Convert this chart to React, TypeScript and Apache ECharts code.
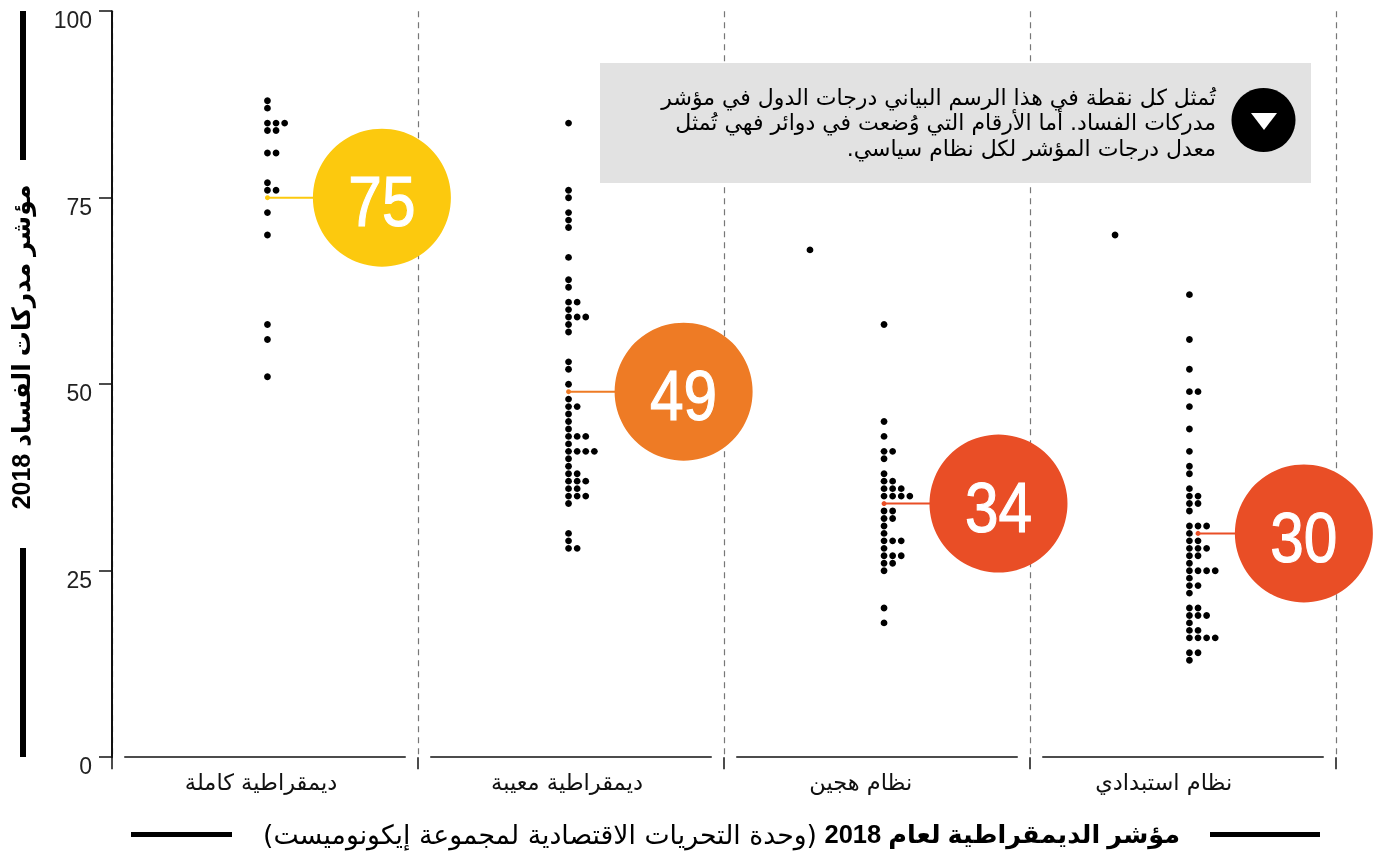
import React, { useEffect, useRef } from "react";
import * as echarts from "echarts";

const categories = ["ديمقراطية كاملة", "ديمقراطية معيبة", "نظام هجين", "نظام استبدادي"];
const fullDemocracy = [88, 87, 85, 85, 85, 84, 84, 81, 81, 77, 76, 76, 73, 70, 58, 56, 51];
const flawedDemocracy = [85, 76, 75, 73, 72, 71, 67, 64, 63, 61, 61, 60, 59, 59, 59, 58, 57, 53, 52, 50, 48, 47, 47, 46, 45, 44, 43, 43, 43, 42, 41, 41, 41, 41, 40, 39, 38, 38, 37, 37, 37, 36, 36, 35, 35, 35, 34, 30, 29, 28, 28];
const hybridRegime = [58, 45, 43, 41, 41, 40, 38, 37, 37, 36, 36, 36, 35, 35, 35, 35, 33, 33, 32, 32, 31, 30, 29, 29, 29, 28, 27, 27, 27, 26, 26, 25, 20, 18];
const authoritarian = [62, 56, 52, 49, 49, 47, 44, 41, 39, 38, 36, 35, 35, 34, 34, 33, 31, 31, 31, 30, 29, 29, 28, 28, 28, 27, 27, 26, 25, 25, 25, 25, 24, 23, 23, 22, 20, 20, 19, 19, 19, 18, 17, 17, 16, 16, 16, 16, 14, 14, 13];
const outliers = [[], [], [68], [70]];
const means = [75, 49, 34, 30];
const meanColors = ["#FCC90E", "#EE7B25", "#E94E26", "#E94E26"];
const yTicks = [0, 25, 50, 75, 100];
const groups = [fullDemocracy, flawedDemocracy, hybridRegime, authoritarian];

// layout in x-axis units (one regime = 1)
const baseX = [0.508, 1.492, 2.523, 3.521];
const colStep = 0.0281;
const outlierX = [0, 0, 2.281, 3.278];
const circleX = [0.882, 1.868, 2.897, 3.895];
const labelX = [0.487, 1.487, 2.447, 3.437];

const AR = '"DejaVu Sans"';
const NUM = '"Liberation Sans"';
const INK = "#111";

function buildSeries() {
  const series: any[] = [];
  series.push({
    type: "scatter", data: [], silent: true,
    markLine: {
      silent: true, symbol: "none", label: { show: false }, animation: false,
      lineStyle: { color: INK, width: 1.5, type: "solid" },
      data: categories.map((_, i) => [{ coord: [i + 0.04, 0] }, { coord: [i + 0.96, 0] }]),
    },
  });
  groups.forEach((vals, i) => {
    const seen: Record<number, number> = {};
    const pts = vals.map((v) => {
      const c = seen[v] || 0;
      seen[v] = c + 1;
      return [baseX[i] + c * colStep, v];
    });
    outliers[i].forEach((v) => pts.push([outlierX[i], v]));
    series.push({ type: "scatter", data: pts, symbolSize: 6.8, itemStyle: { color: "#000", opacity: 1 }, z: 3 });
    const mx = baseX[i] + (seen[means[i]] || 0) * colStep;
    series.push({
      type: "line", z: 4, symbol: "circle", symbolSize: 5, showSymbol: true,
      lineStyle: { color: meanColors[i], width: 2 }, itemStyle: { color: meanColors[i] },
      data: [[mx, means[i]], [circleX[i], means[i]]],
    });
    series.push({
      type: "scatter", z: 5, symbolSize: 138, itemStyle: { color: meanColors[i], opacity: 1 },
      data: [[circleX[i], means[i]]],
    });
    series.push({
      type: "custom", z: 6, coordinateSystem: "cartesian2d",
      data: [[circleX[i], means[i]]],
      renderItem: (_: any, api: any) => {
        const p = api.coord([api.value(0), api.value(1)]);
        return {
          type: "text", x: p[0], y: p[1] + 4, scaleX: 0.85, z2: 10,
          style: {
            text: String(api.value(1)), fill: "#fff", stroke: "#fff", lineWidth: 1.2, fontFamily: NUM, fontSize: 71,
            align: "center", verticalAlign: "middle",
          },
        };
      },
    });
  });
  return series;
}

function App() {
  const ref = useRef<HTMLDivElement>(null);
  useEffect(() => {
    const chart = echarts.init(ref.current!, undefined, { renderer: "svg" });
    const txt = (text: string, x: number, y: number, size: number, extra: any = {}, weight = "normal", family = AR, rotation = 0) => ({
      type: "text", x, y, rotation, z: 20,
      style: { text, fontSize: size, fontWeight: weight, fontFamily: family, fill: "#000", align: "right", verticalAlign: "middle", ...extra },
    });
    chart.setOption({
      animation: false,
      grid: { left: 112, top: 11.2, width: 1224, height: 746, containLabel: false },
      xAxis: {
        type: "value", min: 0, max: 4, interval: 1,
        axisLine: { show: false },
        axisTick: { show: true, length: 12, customValues: [0, 1, 2, 3, 4], lineStyle: { color: INK, width: 1.5 } },
        splitLine: { show: true, lineStyle: { color: "#777", width: 1.2, type: [6, 5] } },
        axisLabel: {
          show: true, customValues: labelX, margin: 13, color: "#111", fontFamily: AR, fontSize: 22.5,
          formatter: (v: number) => categories[Math.floor(v)],
        },
      },
      yAxis: {
        type: "value", min: 0, max: 100, interval: 25,
        axisLine: { show: true, lineStyle: { color: INK, width: 2 } },
        axisTick: { show: true, length: 13, lineStyle: { color: INK, width: 1.5 } },
        splitLine: { show: false },
        axisLabel: {
          show: true, margin: 20, color: "#222", fontFamily: NUM, fontSize: 23, verticalAlign: "top", lineHeight: 18,
          customValues: yTicks,
        },
      },
      graphic: [
        { type: "rect", z: 10, shape: { x: 600, y: 63, width: 711, height: 120 }, style: { fill: "#E2E2E2" } },
        { type: "circle", z: 11, shape: { cx: 1263.5, cy: 120, r: 32 }, style: { fill: "#000" } },
        { type: "polygon", z: 12, shape: { points: [[1251, 113], [1277, 113], [1264, 130]] }, style: { fill: "#fff" } },
        txt("تُمثل كل نقطة في هذا الرسم البياني درجات الدول في مؤشر", 1216, 97, 22),
        txt("مدركات الفساد. أما الأرقام التي وُضعت في دوائر فهي تُمثل", 1216, 122, 22),
        txt("معدل درجات المؤشر لكل نظام سياسي.\u200F", 1216, 148, 22),
        { type: "rect", z: 10, shape: { x: 20, y: 11, width: 6, height: 149 }, style: { fill: "#000" } },
        { type: "rect", z: 10, shape: { x: 20, y: 548, width: 6, height: 209 }, style: { fill: "#000" } },
        txt("مؤشر مدركات الفساد 2018", 21, 347, 25, { align: "center" }, "bold", `${NUM}, ${AR}`, Math.PI / 2),
        { type: "rect", z: 10, shape: { x: 131, y: 832, width: 101, height: 5 }, style: { fill: "#000" } },
        { type: "rect", z: 10, shape: { x: 1210, y: 832, width: 110, height: 5 }, style: { fill: "#000" } },
        txt("مؤشر الديمقراطية لعام 2018", 1180, 834, 25.5, {}, "bold", `${NUM}, ${AR}`),
        txt("\u200F(وحدة التحريات الاقتصادية لمجموعة إيكونوميست)\u200F", 817, 834, 26.7),
      ],
      series: buildSeries(),
    });
    return () => chart.dispose();
  }, []);
  return <div ref={ref} style={{ position: "fixed", left: 0, top: 0, width: 1380, height: 854 }} />;
}

export default App;
